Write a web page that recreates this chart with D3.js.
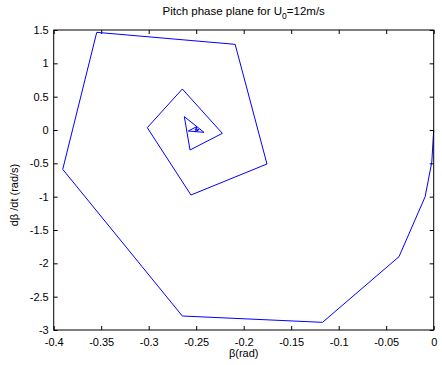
<!DOCTYPE html>
<html>
<head>
<meta charset="utf-8">
<title>Pitch phase plane</title>
<script src="https://d3js.org/d3.v7.min.js"></script>
<style>
  body { margin: 0; background: #fff; }
  svg text { font-family: "Liberation Sans", Arial, sans-serif; font-size: 11px; fill: #000; }
</style>
</head>
<body>
<svg width="442" height="365"></svg>
<script>
// phase trajectory: beta (rad) and dbeta/dt (rad/s)
var beta = [0, -0.002, -0.009, -0.0365, -0.117, -0.2646, -0.3905, -0.3547, -0.209, -0.1755,
            -0.2555, -0.3015, -0.2646, -0.2225, -0.2565, -0.2625, -0.2418, -0.2583, -0.2495,
            -0.2505, -0.247, -0.2513, -0.2502];
var betaDot = [0, -0.48, -1.0, -1.90, -2.885, -2.79, -0.59, 1.465, 1.285, -0.51,
               -0.975, 0.035, 0.615, -0.05, -0.30, 0.20, -0.035, -0.015, 0.05,
               -0.025, 0.008, 0.015, -0.007];
var xTicks = [-0.4, -0.35, -0.3, -0.25, -0.2, -0.15, -0.1, -0.05, 0];
var yTicks = [1.5, 1, 0.5, 0, -0.5, -1, -1.5, -2, -2.5, -3];

var svg = d3.select("svg");
var mLeft = 53.7, mRight = 433.7, mTop = 30, mBottom = 330;

var x = d3.scaleLinear().domain([-0.4, 0]).range([mLeft, mRight]);
var y = d3.scaleLinear().domain([-3, 1.5]).range([mBottom, mTop]);

function fmt(d) { return String(+d.toFixed(2)); }

// bottom axis with labels, ticks pointing in
svg.append("g")
    .attr("transform", "translate(0," + mBottom + ")")
    .call(d3.axisBottom(x).tickValues(xTicks).tickSizeInner(-4).tickSizeOuter(0).tickPadding(8).tickFormat(fmt))
    .call(function(g) { g.select(".domain").remove(); });

svg.append("g")
    .attr("transform", "translate(" + mLeft + ",0)")
    .call(d3.axisLeft(y).tickValues(yTicks).tickSizeInner(-4).tickSizeOuter(0).tickPadding(5).tickFormat(fmt))
    .call(function(g) { g.select(".domain").remove(); });

// top and right ticks, no labels
svg.append("g")
    .attr("transform", "translate(0," + mTop + ")")
    .call(d3.axisTop(x).tickValues(xTicks).tickSizeInner(-4).tickSizeOuter(0).tickFormat(""))
    .call(function(g) { g.select(".domain").remove(); });
svg.append("g")
    .attr("transform", "translate(" + mRight + ",0)")
    .call(d3.axisRight(y).tickValues(yTicks).tickSizeInner(-4).tickSizeOuter(0).tickFormat(""))
    .call(function(g) { g.select(".domain").remove(); });

svg.selectAll(".tick text").style("font-size", "11px").style("font-family", "'Liberation Sans', Arial, sans-serif");

// trajectory
var line = d3.line()
    .x(function(d, i) { return x(beta[i]); })
    .y(function(d, i) { return y(betaDot[i]); });

svg.append("path")
    .datum(beta)
    .attr("fill", "none")
    .attr("stroke", "#0000ff")
    .attr("stroke-width", 1)
    .attr("d", line);

// box
svg.append("rect")
    .attr("x", mLeft).attr("y", mTop)
    .attr("width", mRight - mLeft).attr("height", mBottom - mTop)
    .attr("fill", "none").attr("stroke", "#000").attr("stroke-width", 1);

// title
var t = svg.append("text")
    .attr("x", (mLeft + mRight) / 2).attr("y", 15)
    .attr("text-anchor", "middle")
    .style("font-size", "11.5px");
t.append("tspan").text("Pitch phase plane for U");
t.append("tspan").attr("baseline-shift", "-4").style("font-size", "8.5px").text("0");
t.append("tspan").text("=12m/s");

// axis labels
svg.append("text")
    .attr("x", (mLeft + mRight) / 2).attr("y", 357)
    .attr("text-anchor", "middle")
    .text("β(rad)");

svg.append("text")
    .attr("transform", "translate(18,195) rotate(-90)")
    .attr("text-anchor", "middle")
    .text("dβ /dt (rad/s)");
</script>
</body>
</html>
